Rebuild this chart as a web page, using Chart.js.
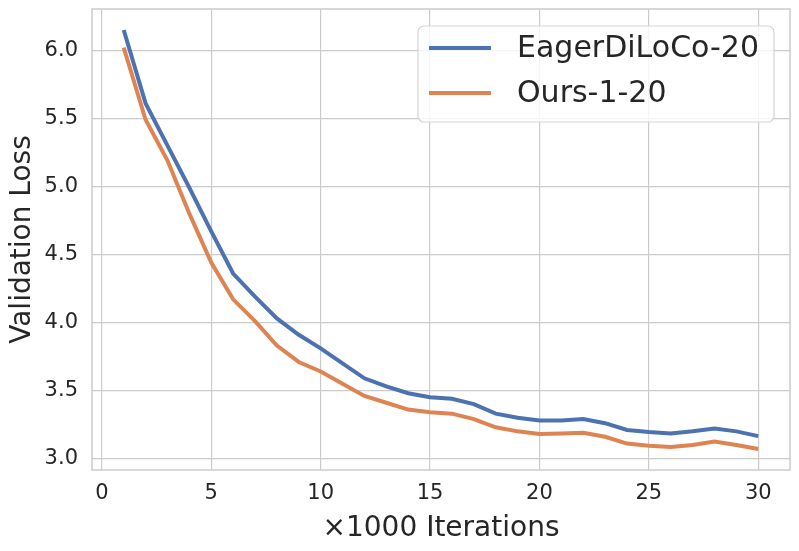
<!DOCTYPE html>
<html>
<head>
<meta charset="utf-8">
<script src="https://cdn.jsdelivr.net/npm/chart.js@4/dist/chart.umd.min.js"></script>
<style>
  html, body { margin: 0; padding: 0; background: #fff; }
  #wrap { width: 799px; height: 551px; }
</style>
</head>
<body>
<div id="wrap"><canvas id="lossChart" width="799" height="551"></canvas></div>
<script>
// data (x in thousands of iterations)
const iters = [1, 2, 3, 4, 5, 6, 7, 8, 9, 10, 11, 12, 13, 14, 15, 16, 17, 18, 19, 20, 21, 22, 23, 24, 25, 26, 27, 28, 29, 30];
const eagerLoss = [6.15, 5.61, 5.30, 4.99, 4.67, 4.36, 4.19, 4.03, 3.91, 3.81, 3.70, 3.59, 3.53, 3.48, 3.45, 3.44, 3.40, 3.33, 3.30, 3.28, 3.28, 3.29, 3.26, 3.21, 3.195, 3.185, 3.20, 3.22, 3.20, 3.165];
const oursLoss = [6.02, 5.49, 5.19, 4.80, 4.44, 4.17, 4.01, 3.83, 3.71, 3.64, 3.55, 3.46, 3.41, 3.36, 3.34, 3.33, 3.29, 3.23, 3.20, 3.18, 3.185, 3.19, 3.16, 3.11, 3.095, 3.085, 3.10, 3.125, 3.10, 3.07];
const seriesLabels = ['EagerDiLoCo-20', 'Ours-1-20'];
const xTicks = [0, 5, 10, 15, 20, 25, 30];
const yTicks = [3.0, 3.5, 4.0, 4.5, 5.0, 5.5, 6.0];

const FONT = "'DejaVu Sans', sans-serif";
const TEXT = '#262626';
const GRID = '#cccccc';

const toPoints = (ys) => iters.map((x, i) => ({ x: x, y: ys[i] }));

// spines around the plot area
const framePlugin = {
    id: 'frame',
    beforeDatasetsDraw(chart) {
        const { ctx, chartArea: a } = chart;
        ctx.save();
        ctx.strokeStyle = GRID;
        ctx.lineWidth = 1.5;
        ctx.strokeRect(a.left, a.top, a.right - a.left, a.bottom - a.top);
        ctx.restore();
    }
};

// matplotlib-style legend box in the upper right
const legendPlugin = {
    id: 'boxLegend',
    afterDraw(chart) {
        const { ctx } = chart;
        const x0 = 418, y0 = 26, w = 356, h = 96, r = 6;
        ctx.save();
        ctx.beginPath();
        ctx.roundRect(x0, y0, w, h, r);
        ctx.fillStyle = 'rgba(255,255,255,0.8)';
        ctx.fill();
        ctx.strokeStyle = '#d6d6d6';
        ctx.lineWidth = 1.2;
        ctx.stroke();
        ctx.font = '30px ' + FONT;
        ctx.textBaseline = 'middle';
        chart.data.datasets.forEach((ds, i) => {
            const yy = 48 + i * 45;
            ctx.beginPath();
            ctx.moveTo(429, yy);
            ctx.lineTo(491, yy);
            ctx.strokeStyle = ds.borderColor;
            ctx.lineWidth = 4;
            ctx.stroke();
            ctx.fillStyle = TEXT;
            ctx.fillText(ds.label, 517, yy + 1);
        });
        ctx.restore();
    }
};

const ctx = document.getElementById('lossChart').getContext('2d');
new Chart(ctx, {
    type: 'line',
    data: {
        datasets: [{
            label: seriesLabels[0],
            data: toPoints(eagerLoss),
            borderColor: '#4c72b0',
            borderWidth: 4,
            pointRadius: 0,
            tension: 0,
            fill: false
        }, {
            label: seriesLabels[1],
            data: toPoints(oursLoss),
            borderColor: '#dd8452',
            borderWidth: 4,
            pointRadius: 0,
            tension: 0,
            fill: false
        }]
    },
    options: {
        responsive: false,
        animation: false,
        layout: { padding: { top: 9, right: 9, left: 0, bottom: 0 } },
        plugins: {
            legend: { display: false },
            tooltip: { enabled: false }
        },
        scales: {
            x: {
                type: 'linear',
                min: -0.45,
                max: 31.45,
                afterBuildTicks: (s) => { s.ticks = xTicks.map(v => ({ value: v })); },
                afterFit: (s) => { s.height = 81; s.paddingLeft = 0; s.paddingRight = 0; },
                grid: { color: GRID, lineWidth: 1.2, drawTicks: false },
                border: { display: false },
                ticks: { color: TEXT, font: { family: FONT, size: 21 }, padding: 11 },
                title: {
                    display: true,
                    text: '×1000 Iterations',
                    color: TEXT,
                    font: { family: FONT, size: 28 },
                    padding: { top: 0, bottom: 5 }
                }
            },
            y: {
                min: 2.916,
                max: 6.304,
                afterBuildTicks: (s) => { s.ticks = yTicks.map(v => ({ value: v })); },
                afterFit: (s) => { s.width = 92; s.paddingTop = 0; s.paddingBottom = 0; },
                grid: { color: GRID, lineWidth: 1.2, drawTicks: false },
                border: { display: false },
                ticks: {
                    color: TEXT,
                    font: { family: FONT, size: 21 },
                    padding: 14,
                    callback: (v) => Number(v).toFixed(1)
                },
                title: {
                    display: true,
                    text: 'Validation Loss',
                    color: TEXT,
                    font: { family: FONT, size: 28 },
                    padding: { top: 6, bottom: 0 }
                }
            }
        }
    },
    plugins: [framePlugin, legendPlugin]
});
</script>
</body>
</html>
